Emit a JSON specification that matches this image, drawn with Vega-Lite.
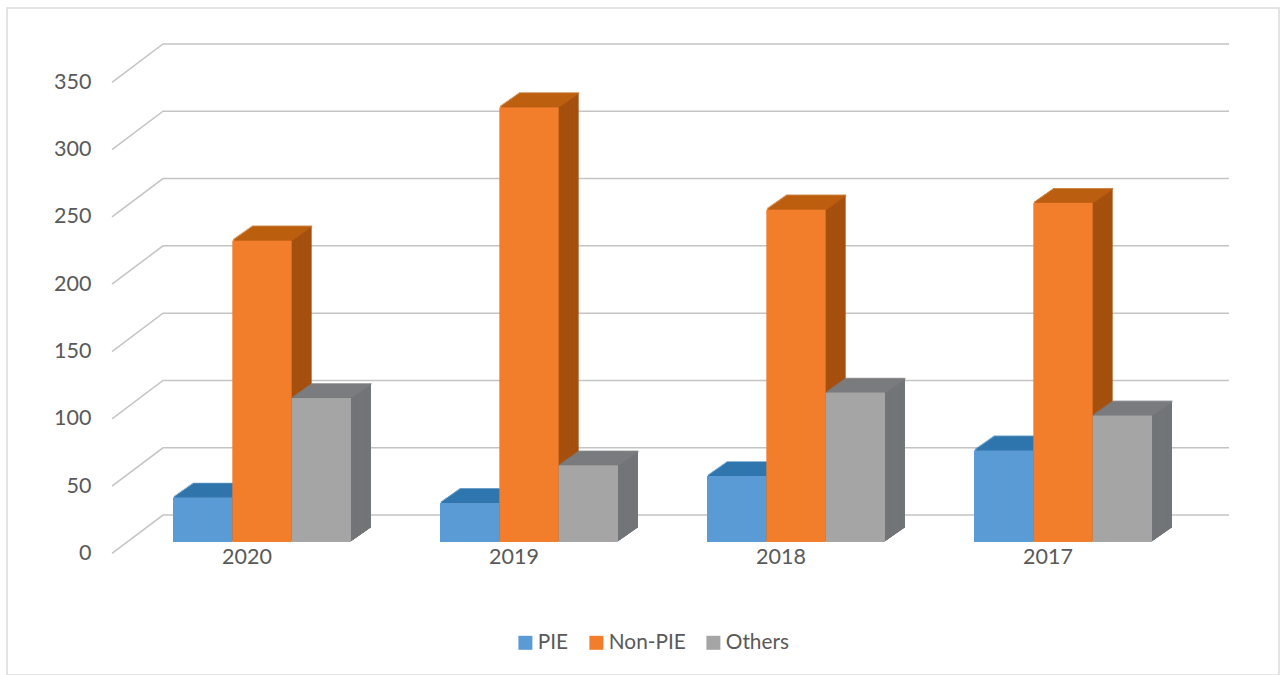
{"$schema":"https://vega.github.io/schema/vega-lite/v6.json","width":1272,"height":667,"autosize":"none","padding":{"left":7,"top":8,"right":9,"bottom":0},"background":"white","config":{"view":{"stroke":"#dcdcdc","strokeWidth":1.5},"font":"Lato"},"resolve":{"scale":{"x":"independent"},"axis":{"y":"independent"},"legend":{"color":"independent"}},"layer":[{"data":{"values":[{"level":0,"wall":105,"pos":-8.5},{"level":0,"wall":156,"pos":20},{"level":0,"wall":1222,"pos":20},{"level":50,"wall":105,"pos":41.5},{"level":50,"wall":156,"pos":70},{"level":50,"wall":1222,"pos":70},{"level":100,"wall":105,"pos":91.5},{"level":100,"wall":156,"pos":120},{"level":100,"wall":1222,"pos":120},{"level":150,"wall":105,"pos":141.5},{"level":150,"wall":156,"pos":170},{"level":150,"wall":1222,"pos":170},{"level":200,"wall":105,"pos":191.5},{"level":200,"wall":156,"pos":220},{"level":200,"wall":1222,"pos":220},{"level":250,"wall":105,"pos":241.5},{"level":250,"wall":156,"pos":270},{"level":250,"wall":1222,"pos":270},{"level":300,"wall":105,"pos":291.5},{"level":300,"wall":156,"pos":320},{"level":300,"wall":1222,"pos":320},{"level":350,"wall":105,"pos":341.5},{"level":350,"wall":156,"pos":370},{"level":350,"wall":1222,"pos":370}]},"mark":{"type":"line","color":"#c4c4c4","strokeWidth":1.5},"encoding":{"x":{"field":"wall","type":"quantitative","scale":{"domain":[0,1272]},"axis":null},"y":{"field":"pos","type":"quantitative","scale":{"domain":[-98.8,396.7]},"axis":null},"detail":{"field":"level"}}},{"data":{"values":[{"slot":"2020|PIE","series":"PIE","value":33},{"slot":"2020|Non-PIE","series":"Non-PIE","value":224},{"slot":"2020|Others","series":"Others","value":107},{"slot":"2019|PIE","series":"PIE","value":29},{"slot":"2019|Non-PIE","series":"Non-PIE","value":323},{"slot":"2019|Others","series":"Others","value":57},{"slot":"2018|PIE","series":"PIE","value":49},{"slot":"2018|Non-PIE","series":"Non-PIE","value":247},{"slot":"2018|Others","series":"Others","value":111},{"slot":"2017|PIE","series":"PIE","value":68},{"slot":"2017|Non-PIE","series":"Non-PIE","value":252},{"slot":"2017|Others","series":"Others","value":94}]},"encoding":{"x":{"field":"slot","type":"nominal","scale":{"domain":["2020|PIE","a1","2020|Non-PIE","a2","2020|Others","a3","a4","a5","a6","2019|PIE","b1","2019|Non-PIE","b2","2019|Others","b3","b4","b5","b6","2018|PIE","c1","2018|Non-PIE","c2","2018|Others","c3","c4","c5","c6","2017|PIE","d1","2017|Non-PIE","d2","2017|Others","d3","d4","d5","d6"],"range":[180.83,1248.83],"paddingInner":0,"paddingOuter":0},"axis":{"title":null,"domain":false,"ticks":false,"grid":false,"labelAngle":0,"labelOffset":-15,"labelPadding":0,"offset":-129,"values":["2020|Non-PIE","2019|Non-PIE","2018|Non-PIE","2017|Non-PIE"],"labelExpr":"slice(datum.label,0,4)","labelFont":"Lato","labelFontSize":21.5,"labelColor":"#595959"}},"y":{"field":"value","type":"quantitative","scale":{"domain":[-98.8,396.7]},"axis":{"title":null,"domain":false,"ticks":false,"grid":false,"values":[0,50,100,150,200,250,300,350],"labelOffset":11.5,"labelPadding":0,"offset":-84,"labelFont":"Lato","labelFontSize":21.5,"labelColor":"#595959"}}},"layer":[{"mark":{"type":"bar","width":59.33,"xOffset":20,"yOffset":-14},"encoding":{"fill":{"field":"series","type":"nominal","scale":{"domain":["PIE","Non-PIE","Others"],"range":["#36709F","#A5500F","#727578"]},"legend":null}}},{"mark":{"type":"tick","filled":false,"thickness":0.4,"strokeWidth":1.4,"size":59,"xOffset":20,"yOffset":-14},"encoding":{"stroke":{"field":"series","type":"nominal","scale":{"domain":["PIE","Non-PIE","Others"],"range":["#2F78B0","#C0620F","#7C7E80"]},"legend":null}}},{"mark":{"type":"bar","width":59.33,"xOffset":18.6,"yOffset":-13},"encoding":{"fill":{"field":"series","type":"nominal","legend":null}}},{"mark":{"type":"tick","filled":false,"thickness":0.4,"strokeWidth":1.4,"size":59,"xOffset":18.6,"yOffset":-13},"encoding":{"stroke":{"field":"series","type":"nominal","legend":null}}},{"mark":{"type":"bar","width":59.33,"xOffset":17.1,"yOffset":-12},"encoding":{"fill":{"field":"series","type":"nominal","legend":null}}},{"mark":{"type":"tick","filled":false,"thickness":0.4,"strokeWidth":1.4,"size":59,"xOffset":17.1,"yOffset":-12},"encoding":{"stroke":{"field":"series","type":"nominal","legend":null}}},{"mark":{"type":"bar","width":59.33,"xOffset":15.7,"yOffset":-11},"encoding":{"fill":{"field":"series","type":"nominal","legend":null}}},{"mark":{"type":"tick","filled":false,"thickness":0.4,"strokeWidth":1.4,"size":59,"xOffset":15.7,"yOffset":-11},"encoding":{"stroke":{"field":"series","type":"nominal","legend":null}}},{"mark":{"type":"bar","width":59.33,"xOffset":14.3,"yOffset":-10},"encoding":{"fill":{"field":"series","type":"nominal","legend":null}}},{"mark":{"type":"tick","filled":false,"thickness":0.4,"strokeWidth":1.4,"size":59,"xOffset":14.3,"yOffset":-10},"encoding":{"stroke":{"field":"series","type":"nominal","legend":null}}},{"mark":{"type":"bar","width":59.33,"xOffset":12.9,"yOffset":-9},"encoding":{"fill":{"field":"series","type":"nominal","legend":null}}},{"mark":{"type":"tick","filled":false,"thickness":0.4,"strokeWidth":1.4,"size":59,"xOffset":12.9,"yOffset":-9},"encoding":{"stroke":{"field":"series","type":"nominal","legend":null}}},{"mark":{"type":"bar","width":59.33,"xOffset":11.4,"yOffset":-8},"encoding":{"fill":{"field":"series","type":"nominal","legend":null}}},{"mark":{"type":"tick","filled":false,"thickness":0.4,"strokeWidth":1.4,"size":59,"xOffset":11.4,"yOffset":-8},"encoding":{"stroke":{"field":"series","type":"nominal","legend":null}}},{"mark":{"type":"bar","width":59.33,"xOffset":10,"yOffset":-7},"encoding":{"fill":{"field":"series","type":"nominal","legend":null}}},{"mark":{"type":"tick","filled":false,"thickness":0.4,"strokeWidth":1.4,"size":59,"xOffset":10,"yOffset":-7},"encoding":{"stroke":{"field":"series","type":"nominal","legend":null}}},{"mark":{"type":"bar","width":59.33,"xOffset":8.6,"yOffset":-6},"encoding":{"fill":{"field":"series","type":"nominal","legend":null}}},{"mark":{"type":"tick","filled":false,"thickness":0.4,"strokeWidth":1.4,"size":59,"xOffset":8.6,"yOffset":-6},"encoding":{"stroke":{"field":"series","type":"nominal","legend":null}}},{"mark":{"type":"bar","width":59.33,"xOffset":7.1,"yOffset":-5},"encoding":{"fill":{"field":"series","type":"nominal","legend":null}}},{"mark":{"type":"tick","filled":false,"thickness":0.4,"strokeWidth":1.4,"size":59,"xOffset":7.1,"yOffset":-5},"encoding":{"stroke":{"field":"series","type":"nominal","legend":null}}},{"mark":{"type":"bar","width":59.33,"xOffset":5.7,"yOffset":-4},"encoding":{"fill":{"field":"series","type":"nominal","legend":null}}},{"mark":{"type":"tick","filled":false,"thickness":0.4,"strokeWidth":1.4,"size":59,"xOffset":5.7,"yOffset":-4},"encoding":{"stroke":{"field":"series","type":"nominal","legend":null}}},{"mark":{"type":"bar","width":59.33,"xOffset":4.3,"yOffset":-3},"encoding":{"fill":{"field":"series","type":"nominal","legend":null}}},{"mark":{"type":"tick","filled":false,"thickness":0.4,"strokeWidth":1.4,"size":59,"xOffset":4.3,"yOffset":-3},"encoding":{"stroke":{"field":"series","type":"nominal","legend":null}}},{"mark":{"type":"bar","width":59.33,"xOffset":2.9,"yOffset":-2},"encoding":{"fill":{"field":"series","type":"nominal","legend":null}}},{"mark":{"type":"tick","filled":false,"thickness":0.4,"strokeWidth":1.4,"size":59,"xOffset":2.9,"yOffset":-2},"encoding":{"stroke":{"field":"series","type":"nominal","legend":null}}},{"mark":{"type":"bar","width":59.33,"xOffset":1.4,"yOffset":-1},"encoding":{"fill":{"field":"series","type":"nominal","legend":null}}},{"mark":{"type":"tick","filled":false,"thickness":0.4,"strokeWidth":1.4,"size":59,"xOffset":1.4,"yOffset":-1},"encoding":{"stroke":{"field":"series","type":"nominal","legend":null}}},{"mark":{"type":"bar","width":59.33},"encoding":{"color":{"field":"series","type":"nominal","scale":{"domain":["PIE","Non-PIE","Others"],"range":["#5B9BD5","#F27D2B","#A5A5A5"]},"legend":{"title":null,"orient":"none","legendX":508,"legendY":624,"direction":"horizontal","symbolType":"square","symbolSize":196,"symbolStrokeWidth":0,"labelFont":"Lato","labelFontSize":20.8,"labelColor":"#595959","labelOffset":2,"columnPadding":17}}}}]}]}
